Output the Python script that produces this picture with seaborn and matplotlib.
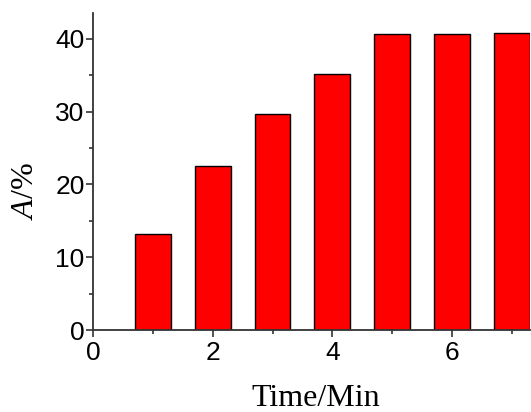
import matplotlib
matplotlib.use("Agg")
import matplotlib.pyplot as plt
import seaborn as sns
import pandas as pd
from matplotlib.ticker import MultipleLocator

times = [1, 2, 3, 4, 5, 6, 7]
values = [13.2, 22.5, 29.7, 35.2, 40.6, 40.7, 40.8]

df = pd.DataFrame({"Time": times, "A": values})

sns.set_style("ticks")
plt.rcParams["font.family"] = ["Liberation Sans", "DejaVu Sans"]
plt.rcParams["mathtext.fontset"] = "custom"
plt.rcParams["mathtext.it"] = "Liberation Serif:italic"
plt.rcParams["mathtext.rm"] = "Liberation Serif"

fig = plt.figure(figsize=(5.31, 4.12), dpi=100)
ax = fig.add_axes([0.175, 0.199, 0.823, 0.769])
ax.bar(df["Time"], df["A"], width=0.6, color="#ff0000", edgecolor="black", linewidth=1.0, zorder=2)
sns.despine(ax=ax)

ax.set_xlim(0, 7.3)
ax.set_ylim(0, 43.5)
ax.xaxis.set_major_locator(MultipleLocator(2))
ax.xaxis.set_minor_locator(MultipleLocator(1))
ax.yaxis.set_major_locator(MultipleLocator(10))
ax.yaxis.set_minor_locator(MultipleLocator(5))
for sp in ["left", "bottom"]:
    ax.spines[sp].set_color("#333333")
    ax.spines[sp].set_linewidth(1.3)
ax.tick_params(which="major", direction="out", length=5, width=1.2, color="#333333",
               labelsize=19, labelcolor="black", pad=1)
ax.tick_params(axis="x", which="major", pad=3)
ax.tick_params(which="minor", direction="out", length=3, width=1.2, color="#333333")

ax.set_xlabel("Time/Min", family="Liberation Serif", fontsize=23, color="black")
ax.xaxis.set_label_coords(0.51, -0.215)
ax.xaxis.label.set_va("center")
ax.set_ylabel(r"$\mathit{A}\mathrm{/\%}$", fontsize=23, color="black")
ax.yaxis.set_label_coords(-0.156, 0.44)
ax.yaxis.label.set_va("center")

fig.savefig("out.png", dpi=100)
